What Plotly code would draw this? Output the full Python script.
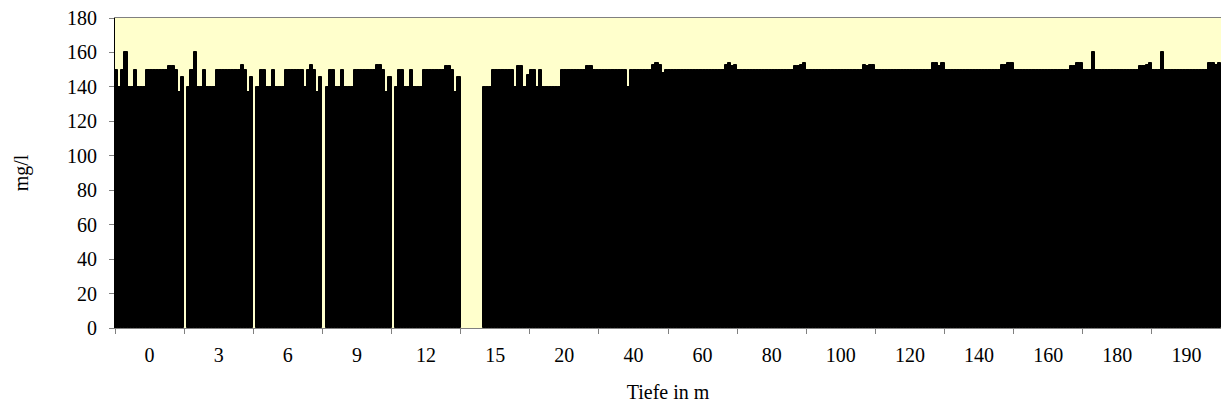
import plotly.graph_objects as go

# Depth categories (x axis)
depths = ["0", "3", "6", "9", "12", "15", "20", "40", "60", "80",
          "100", "120", "140", "160", "180", "190"]

# Values per depth (mg/l), one entry per sampling (22 samplings)
d0 = [150, 140, 150, 160, 140, 140, 150, 140, 140, 140, 150, 150, 150, 150, 150, 150, 150, 152, 152, 150, 137, 146]
d3 = [None, 140, 150, 160, 140, 140, 150, 140, 140, 140, 150, 150, 150, 150, 150, 150, 150, 150, 153, 150, 137, 146]
d6 = [None, 140, 150, 150, 140, 140, 150, 140, 140, 140, 150, 150, 150, 150, 150, 150, 140, 150, 153, 150, 137, 146]
d9 = [None, 140, 150, 150, 140, 140, 150, 140, 140, 140, 150, 150, 150, 150, 150, 150, 150, 153, 153, 150, 137, 146]
d12 = [None, 140, 150, 150, 140, 140, 150, 140, 140, 140, 150, 150, 150, 150, 150, 150, 150, 152, 152, 150, 137, 146]
d15 = [None, None, None, None, None, None, None, 140, 140, 140, 150, 150, 150, 150, 150, 150, 150, 140, 152, 152, 140, 147]
d20 = [150, 150, 140, 150, 140, 140, 140, 140, 140, 140, 150, 150, 150, 150, 150, 150, 150, 150, 152, 152, 150, 150]
d40 = [150, 150, 150, 150, 150, 150, 150, 150, 150, 140, 150, 150, 150, 150, 150, 150, 150, 153, 154, 153, 148, 150]
d60 = [150, 150, 150, 150, 150, 150, 150, 150, 150, 150, 150, 150, 150, 150, 150, 150, 150, 150, 153, 154, 152, 153]
d80 = [150, 150, 150, 150, 150, 150, 150, 150, 150, 150, 150, 150, 150, 150, 150, 150, 150, 150, 152, 152, 153, 154]
d100 = [150, 150, 150, 150, 150, 150, 150, 150, 150, 150, 150, 150, 150, 150, 150, 150, 150, 150, 153, 152, 153, 153]
d120 = [150, 150, 150, 150, 150, 150, 150, 150, 150, 150, 150, 150, 150, 150, 150, 150, 150, 150, 154, 154, 152, 154]
d140 = [150, 150, 150, 150, 150, 150, 150, 150, 150, 150, 150, 150, 150, 150, 150, 150, 150, 150, 153, 153, 154, 154]
d160 = [150, 150, 150, 150, 150, 150, 150, 150, 150, 150, 150, 150, 150, 150, 150, 150, 150, 150, 152, 152, 154, 154]
d180 = [150, 150, 150, 160, 150, 150, 150, 150, 150, 150, 150, 150, 150, 150, 150, 150, 150, 150, 152, 152, 153, 154]
d190 = [150, 150, 150, 160, 150, 150, 150, 150, 150, 150, 150, 150, 150, 150, 150, 150, 150, 150, 154, 154, 153, 154]

y_ticks = [0, 20, 40, 60, 80, 100, 120, 140, 160, 180]

columns = [d0, d3, d6, d9, d12, d15, d20, d40, d60, d80, d100, d120, d140, d160, d180, d190]
n_series = len(d0)

FONT = "'Liberation Serif', 'Times New Roman', serif"

fig = go.Figure()
for i in range(n_series):
    fig.add_trace(go.Bar(
        x=depths,
        y=[col[i] for col in columns],
        marker=dict(color="black", line=dict(color="black", width=1)),
        showlegend=False,
    ))

fig.update_layout(
    width=1221, height=407,
    margin=dict(l=115, r=0, t=18, b=79),
    paper_bgcolor="white",
    plot_bgcolor="#FFFFCC",
    barmode="group",
    bargap=0,
    bargroupgap=0,
    font=dict(family=FONT, size=20, color="black"),
    xaxis=dict(
        type="category",
        tickmode="array", tickvals=depths, ticktext=depths,
        tickson="boundaries",
        ticks="outside", ticklen=5, tickcolor="#808080",
        showline=True, linecolor="#808080", linewidth=1, mirror=True,
        showgrid=False,
        automargin=False,
        ticklabelstandoff=9,
        title=dict(text="Tiefe in m", standoff=19, font=dict(family=FONT, size=20)),
        tickfont=dict(family=FONT, size=20),
    ),
    yaxis=dict(
        range=[0, 180],
        tickmode="array", tickvals=y_ticks,
        ticks="outside", ticklen=5, tickcolor="#808080",
        showline=True, linecolor="black", linewidth=1,
        showgrid=False, zeroline=False,
        automargin=False,
        ticklabeloverflow="allow",
        ticklabelstandoff=8,
        title=dict(text="mg/l", standoff=33, font=dict(family=FONT, size=20)),
        tickfont=dict(family=FONT, size=20),
    ),
)

fig.write_html(
    "out.html",
    config={"displayModeBar": False},
    post_script="document.body.style.margin='0';document.body.style.overflow='hidden';",
)
